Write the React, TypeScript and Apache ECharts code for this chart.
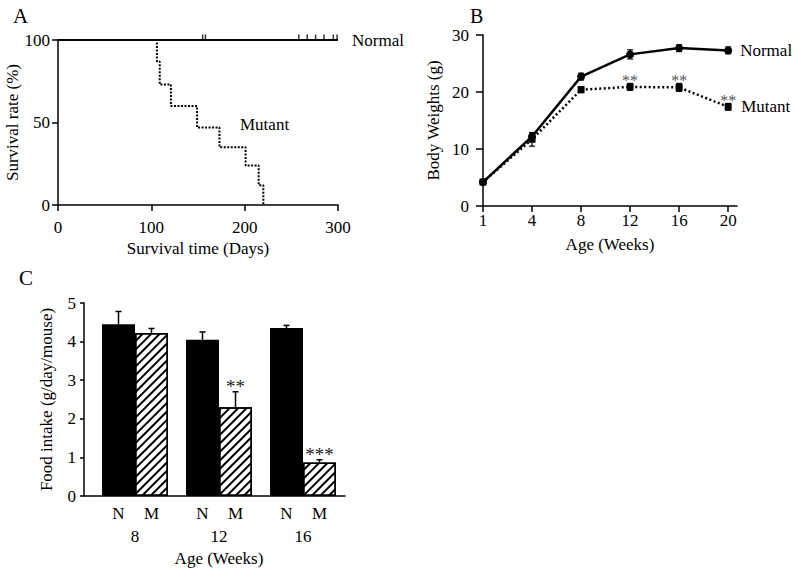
import React, { useEffect, useRef } from "react";
import * as echarts from "echarts";

// Panel A: survival
const mutantDays = [0, 106, 109, 121, 149, 173, 201, 215, 220];
const mutantSurvival = [100, 87, 73, 60, 47, 35, 24, 12, 0];
const normalDays = [0, 300];
const normalSurvival = [100, 100];
const censorDays = [155, 158, 258, 267, 276, 285, 295, 299];

// Panel B: body weights
const weeks = ["1", "4", "8", "12", "16", "20"];
const bwNormal = [4.2, 12.2, 22.7, 26.6, 27.7, 27.3];
const bwNormalErr = [0.3, 0.6, 0.6, 0.8, 0.6, 0.6];
const bwMutant = [4.2, 11.7, 20.4, 20.9, 20.8, 17.4];
const bwMutantErr = [0.3, 1.2, 0.5, 0.6, 0.7, 0.6];
const bwSig = ["", "", "", "**", "**", "**"];

// Panel C: food intake
const intakeAges = ["8", "12", "16"];
const intakeNormal = [4.45, 4.05, 4.35];
const intakeNormalErr = [0.33, 0.2, 0.07];
const intakeMutant = [4.22, 2.3, 0.87];
const intakeMutantErr = [0.12, 0.4, 0.07];
const intakeSig = ["", "**", "***"];

const FONT = "Liberation Serif";
const TXT = { fontFamily: FONT, fontSize: 17, color: "#000" };
const AX = { lineStyle: { color: "#000", width: 1.5 } };

function errRender(dx: number, both: boolean, capW: number, lw: number, sigFont: number, sigColor: string, sigGap: number) {
  return (params: any, api: any) => {
    const i = api.value(0);
    const v = api.value(1);
    const e = api.value(2);
    const sig = api.value(3);
    const top = api.coord([i, v + e]);
    const bot = api.coord([i, both ? v - e : v]);
    const x = top[0] + dx;
    const children: any[] = [
      { type: "line", shape: { x1: x, y1: bot[1], x2: x, y2: top[1] }, style: { stroke: "#000", lineWidth: lw } },
      { type: "line", shape: { x1: x - capW / 2, y1: top[1], x2: x + capW / 2, y2: top[1] }, style: { stroke: "#000", lineWidth: lw } },
    ];
    if (both) {
      children.push({ type: "line", shape: { x1: x - capW / 2, y1: bot[1], x2: x + capW / 2, y2: bot[1] }, style: { stroke: "#000", lineWidth: lw } });
    }
    if (sig && String(sig).length) {
      children.push({
        type: "text",
        style: {
          text: String(sig), x, y: top[1] - sigGap,
          align: "center", verticalAlign: "middle", textAlign: "center", textVerticalAlign: "middle",
          font: `${sigFont}px "${FONT}"`, fill: sigColor,
        },
      });
    }
    return { type: "group", children };
  };
}

export default function App() {
  const ref = useRef<HTMLDivElement>(null);
  useEffect(() => {
    const chart = echarts.init(ref.current!, null, { renderer: "svg" });
    const option: any = {
      animation: false,
      backgroundColor: "#fff",
      textStyle: { fontFamily: FONT },
      grid: [
        { left: 58, top: 40, width: 280, height: 165 },
        { left: 483, top: 35, width: 254, height: 171 },
        { left: 93, top: 303, width: 252, height: 193 },
      ],
      xAxis: [
        {
          gridIndex: 0, type: "value", min: 0, max: 300, interval: 100,
          axisLine: AX, axisTick: { length: 6, lineStyle: { width: 1.5 } },
          axisLabel: { ...TXT, margin: 14 }, splitLine: { show: false },
          name: "Survival time (Days)", nameLocation: "middle", nameGap: 35, nameTextStyle: TXT,
        },
        {
          gridIndex: 1, type: "value", min: 0, max: 5.18, interval: 1,
          axisLine: AX,
          axisTick: { length: 6, lineStyle: { width: 1.5 }, customValues: weeks.map((_, i) => i) },
          axisLabel: { ...TXT, margin: 6, customValues: weeks.map((_, i) => i), formatter: (v: number) => weeks[Math.round(v)] ?? "" },
          splitLine: { show: false },
          name: "Age (Weeks)", nameLocation: "middle", nameGap: 30, nameTextStyle: TXT,
        },
        {
          gridIndex: 2, type: "category", data: intakeAges,
          axisLine: AX, axisTick: { show: false },
          axisLabel: {
            margin: 6,
            formatter: (v: string) => `{n|N}{m|M}\n{c|${v}}`,
            rich: {
              n: { ...TXT, width: 33, align: "center", lineHeight: 23 },
              m: { ...TXT, width: 33, align: "center", lineHeight: 23 },
              c: { ...TXT, align: "center", lineHeight: 23 },
            },
          },
          name: "Age (Weeks)", nameLocation: "middle", nameGap: 54, nameTextStyle: TXT,
        },
      ],
      yAxis: [
        {
          gridIndex: 0, type: "value", min: 0, max: 100, interval: 50,
          axisLine: { show: true, ...AX }, axisTick: { show: true, length: 6, lineStyle: { width: 1.5 } },
          axisLabel: { ...TXT, margin: 8 }, splitLine: { show: false },
          name: "Survival rate (%)", nameLocation: "middle", nameGap: 35, nameTextStyle: TXT,
        },
        {
          gridIndex: 1, type: "value", min: 0, max: 30, interval: 10,
          axisLine: { show: true, ...AX }, axisTick: { show: true, length: 7, lineStyle: { width: 1.5 } },
          axisLabel: { ...TXT, margin: 14 }, splitLine: { show: false },
          name: "Body Weights (g)", nameLocation: "middle", nameGap: 41, nameTextStyle: TXT,
        },
        {
          gridIndex: 2, type: "value", min: 0, max: 5, interval: 1, offset: 9,
          axisLine: { show: true, ...AX }, axisTick: { show: true, length: 4, lineStyle: { width: 1.5 } },
          axisLabel: { ...TXT, margin: 8 }, splitLine: { show: false },
          name: "Food intake (g/day/mouse)", nameLocation: "middle", nameGap: 29, nameTextStyle: TXT,
        },
      ],
      series: [
        {
          type: "line", xAxisIndex: 0, yAxisIndex: 0, step: "end", symbol: "none",
          data: mutantDays.map((d, i) => [d, mutantSurvival[i]]),
          lineStyle: { color: "#000", width: 2, type: [2, 1.5] },
        },
        {
          type: "line", xAxisIndex: 0, yAxisIndex: 0, symbol: "none",
          data: normalDays.map((d, i) => [d, normalSurvival[i]]),
          lineStyle: { color: "#000", width: 2 },
          endLabel: { show: true, formatter: "Normal", distance: 14, ...TXT },
        },
        {
          type: "scatter", xAxisIndex: 0, yAxisIndex: 0, symbol: "rect",
          symbolSize: [1.5, 5], symbolOffset: [0, -3],
          data: censorDays.map((d) => [d, 100]),
          itemStyle: { color: "#000" },
        },
        {
          type: "line", xAxisIndex: 1, yAxisIndex: 1, symbol: "circle", symbolSize: 8,
          data: weeks.map((_, i) => [i, bwNormal[i]]),
          lineStyle: { color: "#000", width: 2.5 }, itemStyle: { color: "#000" },
          endLabel: { show: true, formatter: "Normal", distance: 12, ...TXT },
        },
        {
          type: "line", xAxisIndex: 1, yAxisIndex: 1, symbol: "rect", symbolSize: 7,
          data: weeks.map((_, i) => [i, bwMutant[i]]),
          lineStyle: { color: "#000", width: 2.5, type: [2, 2.5] }, itemStyle: { color: "#000" },
          endLabel: { show: true, formatter: "Mutant", distance: 13, ...TXT },
        },
        {
          type: "custom", xAxisIndex: 1, yAxisIndex: 1, z: 5,
          data: weeks.map((_, i) => [i, bwNormal[i], bwNormalErr[i], ""]),
          encode: { x: 0, y: 1 },
          renderItem: errRender(0, true, 6, 1.2, 16, "#555", 3),
        },
        {
          type: "custom", xAxisIndex: 1, yAxisIndex: 1, z: 5,
          data: weeks.map((_, i) => [i, bwMutant[i], bwMutantErr[i], bwSig[i]]),
          encode: { x: 0, y: 1 },
          renderItem: errRender(0, true, 6, 1.2, 16, "#555", 3),
        },
        {
          type: "bar", xAxisIndex: 2, yAxisIndex: 2, barWidth: 33, barGap: "0%",
          data: intakeNormal,
          itemStyle: { color: "#000", borderColor: "#000", borderWidth: 1.5 },
        },
        {
          type: "bar", xAxisIndex: 2, yAxisIndex: 2, barWidth: 33, barGap: "0%",
          data: intakeMutant,
          itemStyle: {
            color: "#fff", borderColor: "#000", borderWidth: 1.5,
            decal: {
              symbol: "rect", symbolSize: 1, color: "#000", backgroundColor: null,
              dashArrayX: [1, 0], dashArrayY: [2, 3.2], rotation: -Math.PI / 4,
            },
          },
        },
        {
          type: "custom", xAxisIndex: 2, yAxisIndex: 2, z: 5,
          data: intakeAges.map((_, i) => [i, intakeNormal[i], intakeNormalErr[i], ""]),
          encode: { x: 0, y: 1 },
          renderItem: errRender(-16.5, false, 6, 1.5, 19, "#000", 5),
        },
        {
          type: "custom", xAxisIndex: 2, yAxisIndex: 2, z: 5,
          data: intakeAges.map((_, i) => [i, intakeMutant[i], intakeMutantErr[i], intakeSig[i]]),
          encode: { x: 0, y: 1 },
          renderItem: errRender(16.5, false, 6, 1.5, 19, "#222", 5),
        },
      ],
      graphic: [
        { type: "text", left: 13, top: 5, style: { text: "A", font: `21px "${FONT}"`, fill: "#000" } },
        { type: "text", left: 470, top: 6, style: { text: "B", font: `20px "${FONT}"`, fill: "#000" } },
        { type: "text", left: 19, top: 267, style: { text: "C", font: `21px "${FONT}"`, fill: "#000" } },
        { type: "text", left: 240, top: 116, style: { text: "Mutant", font: `17px "${FONT}"`, fill: "#000" } },
        { type: "line", shape: { x1: 84, y1: 496, x2: 93, y2: 496 }, style: { stroke: "#000", lineWidth: 1.5 } },
      ],
    };
    chart.setOption(option);
    return () => chart.dispose();
  }, []);
  return <div ref={ref} style={{ position: "fixed", left: 0, top: 0, width: 795, height: 571 }} />;
}
